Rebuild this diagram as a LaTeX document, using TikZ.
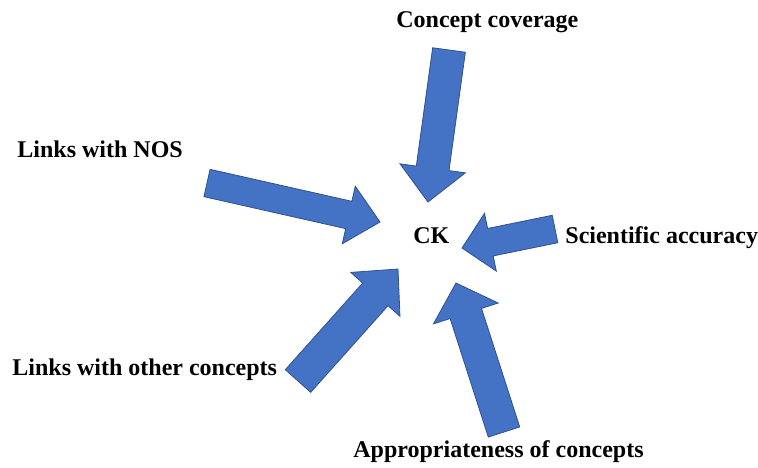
\documentclass[tikz,border=0pt]{standalone}
\usepackage{fontspec}
\setmainfont{Liberation Serif}
\usepackage{xcolor}
\usetikzlibrary{calc}
\usetikzlibrary{positioning}

\definecolor{arrowblue}{HTML}{4472C4}
\definecolor{arrowedge}{HTML}{2F528F}

\tikzset{
  arrowbody/.style={fill=arrowblue, draw=arrowedge, line width=0.4pt, line join=miter},
  criterion/.style={font=\bfseries\fontsize{12}{14}\selectfont, inner sep=0pt, anchor=base west}
}

% block arrow from (#1t) to (#1h): shaft half width, head half width, head length
\newcommand{\blockarr}[4]{%
  \coordinate (#1b) at ($(#1h)!#4!(#1t)$);
  \filldraw[arrowbody] ($(#1t)!#2!90:(#1h)$) -- ($(#1b)!#2!90:(#1h)$) -- ($(#1b)!#3!90:(#1h)$)
    -- (#1h) -- ($(#1b)!#3!-90:(#1h)$) -- ($(#1b)!#2!-90:(#1h)$) -- ($(#1t)!#2!-90:(#1h)$) -- cycle;
}

\begin{document}
\begin{tikzpicture}[x=0.5pt, y=-0.5pt]
  \useasboundingbox (0,0) rectangle (758,467);

  % labels
  \node[criterion] (ck) at (413,243) {CK};
  \node[criterion] (cov) at (396,27) {Concept coverage};
  \node[criterion] (nos) at (17,157) {Links with NOS};
  \node[criterion] (acc) at (565,243) {Scientific accuracy};
  \node[criterion] (oth) at (12,375) {Links with other concepts};
  \node[criterion] (app) at (353,457) {Appropriateness of concepts};

  % arrow ends
  \coordinate (covt) at (449,50);  \coordinate (covh) at (428,202);
  \coordinate (nost) at (207,183); \coordinate (nosh) at (380,222);
  \coordinate (otht) at (298,381); \coordinate (othh) at (398,269);
  \coordinate (appt) at (504,432); \coordinate (apph) at (456,283);
  \coordinate (acct) at (555,229); \coordinate (acch) at (462,248);

  % arrows
  \blockarr{cov}{8.25pt}{16.5pt}{17pt}
  \blockarr{nos}{7pt}{14.75pt}{16pt}
  \blockarr{oth}{8.5pt}{16.5pt}{17pt}
  \blockarr{app}{8.25pt}{17pt}{16pt}
  \blockarr{acc}{7pt}{14.75pt}{14.5pt}
\end{tikzpicture}
\end{document}
